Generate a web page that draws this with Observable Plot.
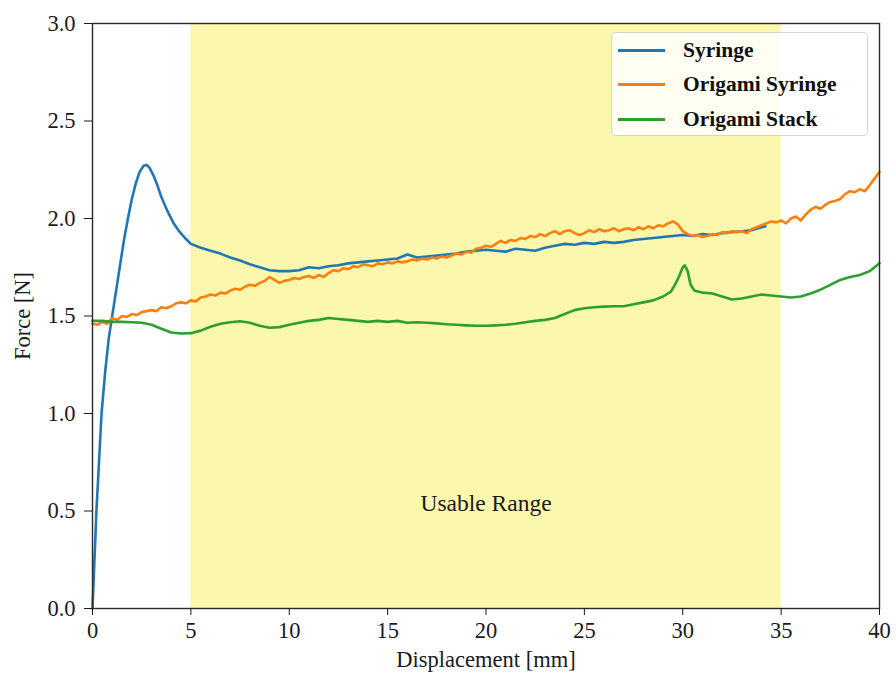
<!DOCTYPE html>
<html>
<head>
<meta charset="utf-8">
<script src="https://cdn.jsdelivr.net/npm/d3@7"></script>
<script src="https://cdn.jsdelivr.net/npm/@observablehq/plot@0.6"></script>
<style>
  body { margin: 0; background: #fff; }
  #wrap { position: relative; width: 896px; height: 674px; }
  #legend {
    position: absolute; left: 611px; top: 32px; width: 255px; height: 102px;
    border: 1px solid #d4d4d4; border-radius: 4px; background: rgba(255,255,255,0.85);
    font-family: "Liberation Serif", "DejaVu Serif", serif; font-weight: bold; font-size: 21.5px; color: #111;
  }
  .item { position: absolute; left: 6px; height: 30px; display: flex; align-items: center; }
  .sw { width: 47px; height: 3px; margin-right: 18px; }
</style>
</head>
<body>
<div id="wrap"><div id="legend"></div></div>
<script>
// ---- data ----
const seriesNames = ["Syringe", "Origami Syringe", "Origami Stack"];
const seriesColors = ["#1f77b4", "#ff7f0e", "#2ca02c"];
const xTicks = [0, 5, 10, 15, 20, 25, 30, 35, 40];
const yTicks = [0, 0.5, 1.0, 1.5, 2.0, 2.5, 3.0];
const usableBand = [{x1: 5, x2: 35}];
const annotations = [{x: 20, y: 0.54, text: "Usable Range"}];

const syringe = [
  [0,0],[0.1,0.25],[0.2,0.5],[0.33,0.75],[0.46,1.0],[0.65,1.22],[0.82,1.38],[1.0,1.5],[1.2,1.63],[1.4,1.76],
  [1.6,1.89],[1.8,2.0],[2.0,2.1],[2.2,2.18],[2.4,2.24],[2.6,2.27],[2.75,2.275],[2.9,2.26],[3.1,2.22],[3.3,2.17],
  [3.5,2.11],[3.8,2.04],[4.1,1.98],[4.4,1.935],[4.7,1.9],[5.0,1.87],[5.5,1.85],[6.0,1.835],[6.5,1.82],[7.0,1.80],
  [7.5,1.785],[8.0,1.765],[8.5,1.75],[9.0,1.735],[9.5,1.73],[10,1.73],[10.5,1.735],[11,1.75],[11.5,1.745],[12,1.755],
  [12.5,1.76],[13,1.77],[13.5,1.775],[14,1.78],[14.5,1.785],[15,1.79],[15.5,1.795],[16,1.815],[16.5,1.80],[17,1.805],
  [17.5,1.81],[18,1.815],[18.5,1.82],[19,1.83],[19.5,1.835],[20,1.84],[20.5,1.835],[21,1.83],[21.5,1.845],[22,1.84],
  [22.5,1.835],[23,1.85],[23.5,1.86],[24,1.87],[24.5,1.865],[25,1.875],[25.5,1.87],[26,1.88],[26.5,1.875],[27,1.88],
  [27.5,1.89],[28,1.895],[28.5,1.90],[29,1.905],[29.5,1.91],[30,1.915],[30.5,1.91],[31,1.92],[31.5,1.915],[32,1.925],
  [32.5,1.93],[33,1.935],[33.5,1.94],[34,1.955],[34.2,1.96]
];
const origamiSyringe = [
  [0,1.46],[0.25,1.455],[0.5,1.47],[0.75,1.46],[1,1.49],[1.25,1.48],[1.5,1.50],[1.75,1.495],[2,1.51],[2.25,1.505],
  [2.5,1.52],[2.75,1.525],[3,1.53],[3.25,1.525],[3.5,1.545],[3.75,1.54],[4,1.55],[4.25,1.565],[4.5,1.57],[4.75,1.565],
  [5,1.58],[5.25,1.575],[5.5,1.595],[5.75,1.60],[6,1.61],[6.25,1.605],[6.5,1.62],[6.75,1.615],[7,1.63],[7.25,1.64],
  [7.5,1.635],[7.75,1.65],[8,1.66],[8.25,1.655],[8.5,1.67],[8.75,1.68],[9,1.70],[9.25,1.685],[9.5,1.67],[9.75,1.68],
  [10,1.685],[10.25,1.695],[10.5,1.69],[10.75,1.70],[11,1.705],[11.25,1.695],[11.5,1.71],[11.75,1.70],[12,1.72],[12.25,1.735],
  [12.5,1.73],[12.75,1.745],[13,1.74],[13.25,1.755],[13.5,1.75],[13.75,1.765],[14,1.76],[14.25,1.755],[14.5,1.77],[14.75,1.765],
  [15,1.775],[15.25,1.77],[15.5,1.78],[15.75,1.775],[16,1.78],[16.25,1.79],[16.5,1.785],[16.75,1.795],[17,1.79],[17.25,1.80],
  [17.5,1.795],[17.75,1.805],[18,1.80],[18.25,1.81],[18.5,1.82],[18.75,1.815],[19,1.83],[19.25,1.825],[19.5,1.845],[19.75,1.85],
  [20,1.86],[20.25,1.855],[20.5,1.87],[20.75,1.885],[21,1.875],[21.25,1.89],[21.5,1.885],[21.75,1.90],[22,1.895],[22.25,1.91],
  [22.5,1.905],[22.75,1.92],[23,1.91],[23.25,1.925],[23.5,1.935],[23.75,1.92],[24,1.935],[24.25,1.94],[24.5,1.925],[24.75,1.915],
  [25,1.925],[25.25,1.94],[25.5,1.93],[25.75,1.945],[26,1.935],[26.25,1.94],[26.5,1.95],[26.75,1.935],[27,1.945],[27.25,1.95],
  [27.5,1.94],[27.75,1.955],[28,1.945],[28.25,1.96],[28.5,1.95],[28.75,1.965],[29,1.96],[29.25,1.975],[29.5,1.985],[29.75,1.97],
  [30,1.935],[30.25,1.92],[30.5,1.91],[30.75,1.915],[31,1.905],[31.25,1.91],[31.5,1.92],[31.75,1.915],[32,1.93],[32.25,1.925],
  [32.5,1.935],[32.75,1.93],[33,1.935],[33.25,1.925],[33.5,1.945],[33.75,1.955],[34,1.965],[34.25,1.975],[34.5,1.985],[34.75,1.98],
  [35,1.99],[35.25,1.975],[35.5,2.0],[35.75,2.01],[36,1.99],[36.25,2.02],[36.5,2.045],[36.75,2.06],[37,2.05],[37.25,2.07],
  [37.5,2.085],[37.75,2.09],[38,2.10],[38.25,2.125],[38.5,2.14],[38.75,2.135],[39,2.15],[39.25,2.14],[39.5,2.17],[39.75,2.205],
  [40,2.24]
];
const origamiStack = [
  [0,1.475],[0.5,1.475],[1,1.47],[1.5,1.47],[2,1.468],[2.5,1.465],[3,1.455],[3.5,1.435],[4,1.415],[4.5,1.41],
  [5,1.412],[5.5,1.425],[6,1.445],[6.5,1.46],[7,1.468],[7.5,1.473],[8,1.465],[8.5,1.45],[9,1.44],[9.5,1.443],
  [10,1.455],[10.5,1.465],[11,1.475],[11.5,1.48],[12,1.49],[12.5,1.485],[13,1.48],[13.5,1.475],[14,1.47],[14.5,1.475],
  [15,1.47],[15.5,1.475],[16,1.465],[16.5,1.468],[17,1.465],[17.5,1.462],[18,1.458],[18.5,1.455],[19,1.452],[19.5,1.45],
  [20,1.45],[20.5,1.452],[21,1.455],[21.5,1.46],[22,1.468],[22.5,1.475],[23,1.48],[23.5,1.49],[24,1.51],[24.5,1.53],
  [25,1.54],[25.5,1.545],[26,1.548],[26.5,1.55],[27,1.55],[27.5,1.56],[28,1.57],[28.5,1.58],[29,1.6],[29.4,1.625],
  [29.6,1.66],[29.8,1.70],[30,1.75],[30.1,1.76],[30.25,1.73],[30.4,1.66],[30.6,1.63],[31,1.62],[31.5,1.615],[32,1.60],
  [32.5,1.585],[33,1.59],[33.5,1.60],[34,1.61],[34.5,1.605],[35,1.60],[35.5,1.595],[36,1.60],[36.5,1.615],[37,1.635],
  [37.5,1.66],[38,1.685],[38.5,1.70],[39,1.71],[39.5,1.73],[40,1.77]
];

// ---- build table ----
const rows = [];
[syringe, origamiSyringe, origamiStack].forEach((s, i) =>
  s.forEach(([x, y]) => rows.push({series: seriesNames[i], x, y})));

const font = '"Liberation Serif", "DejaVu Serif", serif';

const chart = Plot.plot({
  width: 896,
  height: 674,
  marginLeft: 92,
  marginRight: 17,
  marginTop: 23,
  marginBottom: 66,
  style: {fontFamily: font, fontSize: "21px", color: "#1a1a1a", background: "#fff"},
  x: {domain: [0, 40]},
  y: {domain: [0, 3]},
  color: {domain: seriesNames, range: seriesColors},
  marks: [
    Plot.rect(usableBand, {x1: "x1", x2: "x2", fill: "#fbf7ad"}),
    Plot.line(rows, {x: "x", y: "y", z: "series", stroke: "series", strokeWidth: 2.6, curve: "linear"}),
    Plot.text(annotations, {x: "x", y: "y", text: "text", fontSize: 23.5, fill: "#1a1a1a"}),
    Plot.frame({stroke: "#2a2a2a", strokeWidth: 1.4}),
    Plot.axisX({ticks: xTicks, tickSize: 7, tickPadding: 7, tickFormat: d3.format("d"),
      label: "Displacement [mm]", labelAnchor: "center", labelOffset: 58, labelArrow: "none", fontSize: 21}),
    Plot.axisY({ticks: yTicks, tickSize: 8, tickPadding: 9, tickFormat: d3.format(".1f"),
      label: "Force [N]", labelAnchor: "center", labelOffset: 78, labelArrow: "none", fontSize: 21})
  ]
});
document.getElementById("wrap").prepend(chart);

// axis titles slightly larger than tick labels
chart.querySelectorAll("g[aria-label$='label'] text, text[aria-label$='label']").forEach(t => t.setAttribute("font-size", 22.5));

// legend overlay (HTML)
const legend = document.getElementById("legend");
seriesNames.forEach((name, i) => {
  const item = document.createElement("div");
  item.className = "item";
  item.style.top = (2 + i * 34.5) + "px";
  const sw = document.createElement("div");
  sw.className = "sw";
  sw.style.background = seriesColors[i];
  const t = document.createElement("span");
  t.textContent = name;
  item.append(sw, t);
  legend.append(item);
});
</script>
</body>
</html>
